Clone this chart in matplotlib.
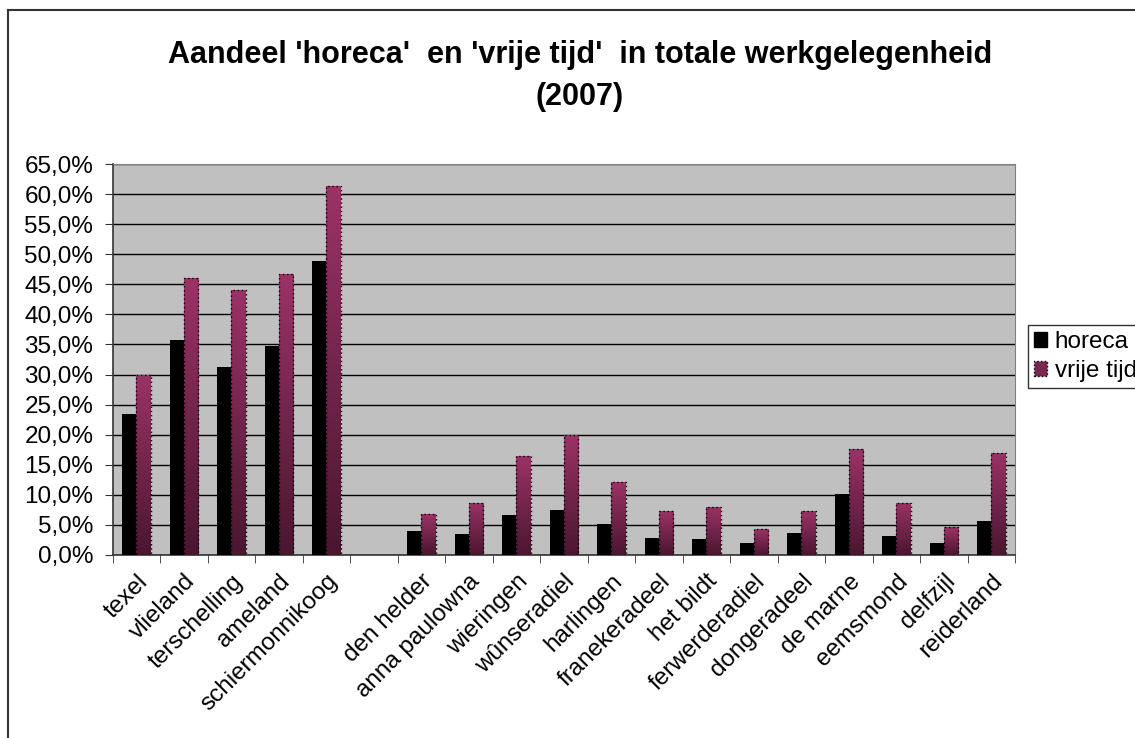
"""Aandeel horeca en vrije tijd in totale werkgelegenheid (2007)."""

import matplotlib
matplotlib.use('Agg')
import matplotlib.pyplot as plt
import numpy as np
from matplotlib.colors import LinearSegmentedColormap
from matplotlib.lines import Line2D
from matplotlib.patches import Patch

plt.rcParams['font.family'] = ['Liberation Sans', 'DejaVu Sans']

gemeenten = [
    "texel", "vlieland", "terschelling", "ameland", "schiermonnikoog", "",
    "den helder", "anna paulowna", "wieringen", "wûnseradiel", "harlingen",
    "franekeradeel", "het bildt", "ferwerderadiel", "dongeradeel",
    "de marne", "eemsmond", "delfzijl", "reiderland",
]
horeca = [23.4, 35.8, 31.2, 34.8, 48.8, np.nan,
          4.0, 3.5, 6.7, 7.4, 5.1, 2.9, 2.6, 2.0, 3.6, 10.2, 3.1, 2.0, 5.6]
vrije_tijd = [30.0, 46.0, 44.1, 46.7, 61.3, np.nan,
              6.8, 8.7, 16.4, 20.0, 12.1, 7.3, 8.0, 4.3, 7.3, 17.6, 8.7, 4.6, 17.0]
y_ticks = np.arange(0, 66, 5)

W, H = 1135, 738
fig = plt.figure(figsize=(W / 100, H / 100), dpi=100)

# chart area border (only left and top edge visible)
fig.add_artist(Line2D([8 / W, 8 / W], [0, 1 - 10 / H], color='#333333', lw=1.5,
                      transform=fig.transFigure))
fig.add_artist(Line2D([8 / W, 1], [1 - 10 / H, 1 - 10 / H], color='#333333', lw=1.5,
                      transform=fig.transFigure))

left, right, top, bottom = 112.7, 1015, 164, 555
ax = fig.add_axes([left / W, 1 - bottom / H, (right - left) / W, (bottom - top) / H])
ax.set_facecolor('#C0C0C0')

x = np.arange(len(gemeenten))
bw = 0.30
ax.bar(x - bw / 2, horeca, width=bw, color='black', zorder=3)
vt_bars = ax.bar(x + bw / 2, vrije_tijd, width=bw, color='none',
                 edgecolor='black', linestyle=(0, (1, 2)), linewidth=1, zorder=4)

# plum gradient fill, dark at the bottom of each bar
plum = LinearSegmentedColormap.from_list('plum', ['#4a1630', '#9b3366'])
grad = np.linspace(0, 1, 256).reshape(-1, 1)
for p in vt_bars:
    h = p.get_height()
    if not np.isfinite(h):
        continue
    x0 = p.get_x()
    im = ax.imshow(grad, cmap=plum, origin='lower', aspect='auto',
                   extent=(x0, x0 + p.get_width(), 0, h), zorder=3.5)
    im.set_clip_path(p)

ax.set_xlim(-0.5, len(gemeenten) - 0.5)
ax.set_ylim(0, 65)
ax.set_yticks(y_ticks)
ax.set_yticklabels([f"{v:.1f}%".replace('.', ',') for v in y_ticks], fontsize=17.5)
ax.yaxis.grid(True, color='black', lw=1)
ax.set_axisbelow(True)

ax.set_xticks(x)
ax.set_xticklabels(gemeenten, rotation=45, ha='right', rotation_mode='anchor',
                   fontsize=17.5)
ax.set_xticks(np.arange(-0.5, len(gemeenten)), minor=True)
ax.tick_params(axis='x', which='major', length=0, pad=11)
ax.tick_params(axis='x', which='minor', length=6, direction='out', color='#333333')
ax.tick_params(axis='y', length=6, direction='out', color='#333333', pad=8)

for side in ['top', 'right']:
    ax.spines[side].set_color('#808080')
ax.spines['left'].set_color('#333333')
ax.spines['bottom'].set_color('#333333')
ax.spines['left'].set_linewidth(1.2)
ax.spines['bottom'].set_linewidth(1.2)

fig.text(0.511, 1 - 55 / H, "Aandeel 'horeca'  en 'vrije tijd'  in totale werkgelegenheid",
         ha='center', va='center', fontsize=22, fontweight='bold')
fig.text(0.511, 1 - 97 / H, "(2007)", ha='center', va='center',
         fontsize=22, fontweight='bold')

handles = [Patch(facecolor='black', edgecolor='black'),
           Patch(facecolor='#7a2850', edgecolor='black', linestyle=':')]
leg = fig.legend(handles, ['horeca', 'vrije tijd'], loc='upper left',
                 bbox_to_anchor=(1028 / W, 1 - 325 / H), fontsize=17.5,
                 frameon=True, fancybox=False, edgecolor='black',
                 handlelength=0.55, handleheight=0.55, handletextpad=0.3,
                 borderpad=0.25, labelspacing=0.3, borderaxespad=0)
leg.get_frame().set_linewidth(1)

fig.savefig('out.png', dpi=100)
